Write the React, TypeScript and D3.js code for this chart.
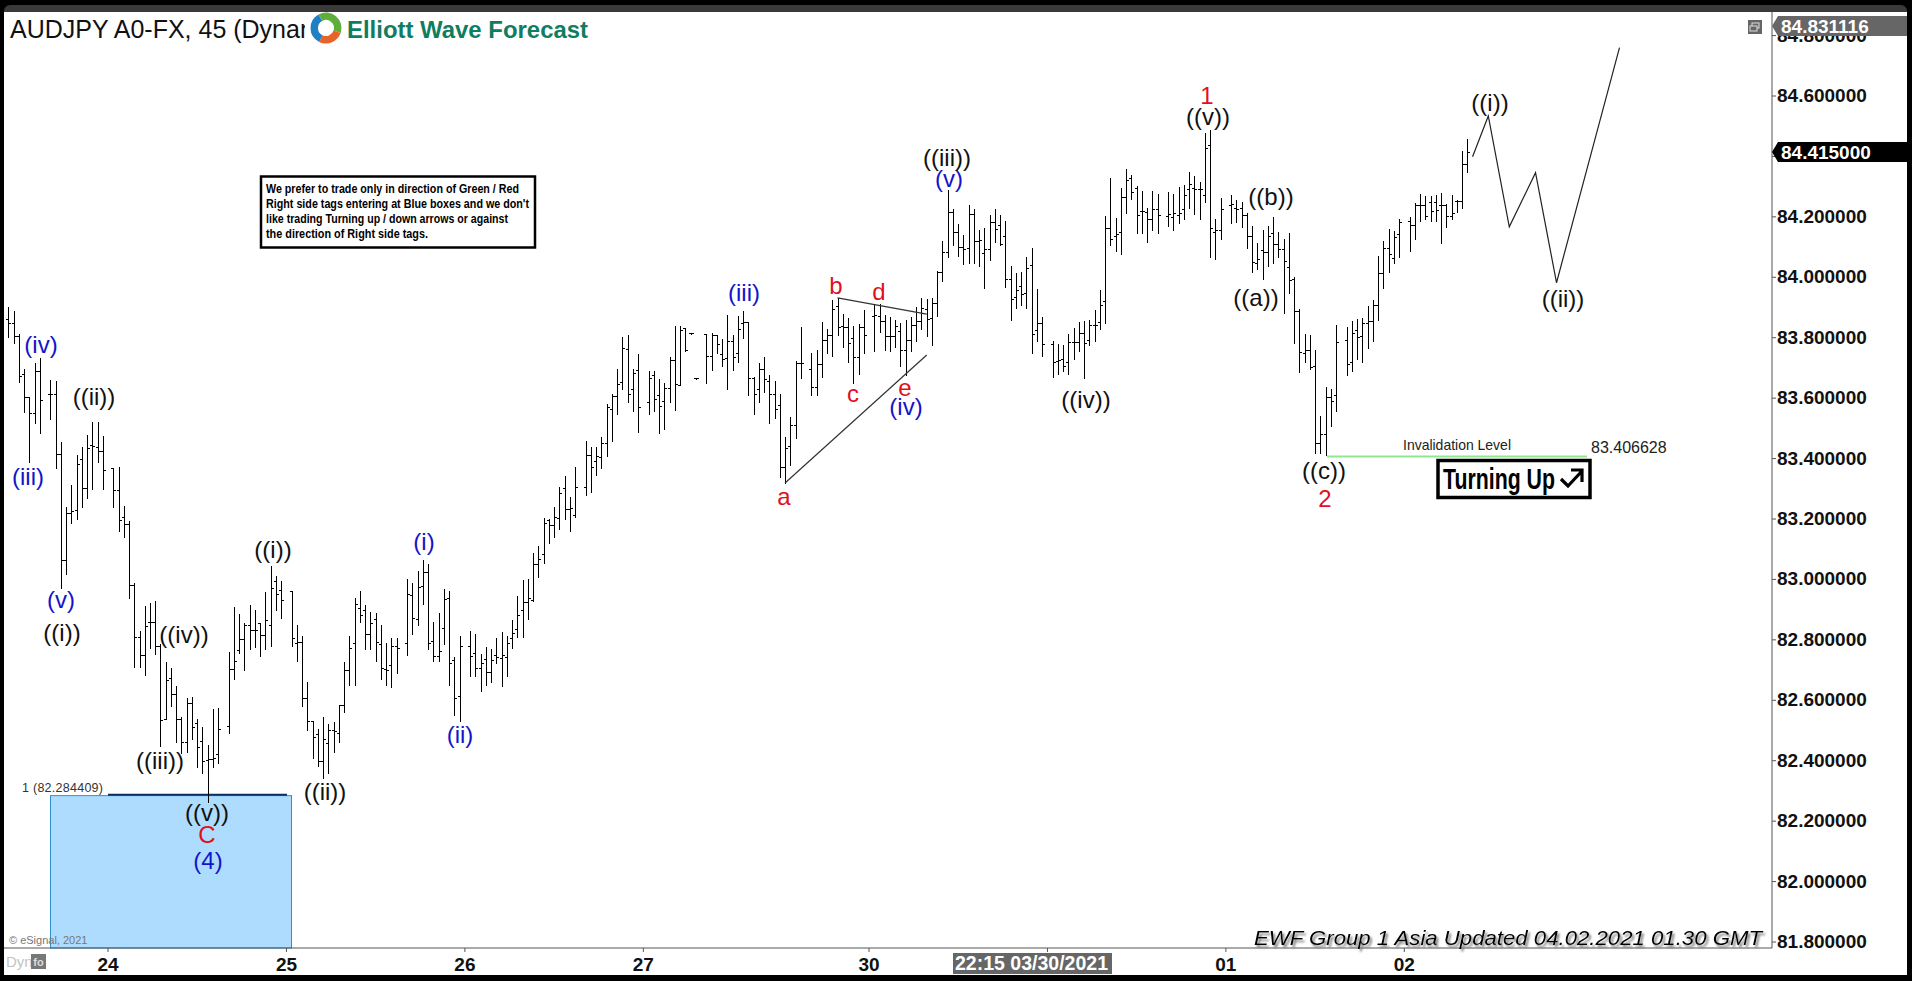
import * as d3 from "d3";

// 45 minute bars, index = bar slot on the time axis, null = empty slot
const barHigh = [
  83.903,83.889,83.811,83.695,83.605,83.715,83.732,null,83.660,83.657,
  83.454,83.239,83.312,83.411,83.437,83.478,83.521,83.521,83.475,null,
  83.370,83.371,83.243,83.193,82.987,82.829,82.912,82.923,82.929,82.786,
  82.726,82.706,82.647,82.546,82.609,82.610,82.537,82.510,82.452,82.570,
  82.573,null,82.761,82.908,82.886,82.857,82.915,82.899,82.857,82.958,
  83.044,83.011,82.995,null,82.963,82.849,82.813,82.660,82.531,82.505,
  82.545,82.521,82.529,82.586,82.726,82.813,82.937,82.961,82.914,82.892,
  82.888,82.849,82.790,82.807,82.807,null,83.000,82.987,83.028,83.064,
  83.051,82.858,82.888,82.967,82.961,82.742,82.813,null,82.829,82.819,
  82.753,82.775,82.769,82.805,82.825,82.812,82.865,82.945,82.998,83.001,
  83.087,83.110,83.202,83.199,83.240,83.305,83.342,83.274,83.372,null,
  83.458,83.439,83.439,83.471,83.579,83.614,83.696,83.801,83.809,83.695,
  83.746,null,83.690,83.690,83.662,83.649,83.735,83.839,83.839,83.832,
  83.814,83.665,null,83.812,83.814,83.806,83.795,83.875,83.809,83.872,
  83.888,83.853,83.671,83.715,83.735,83.676,83.657,83.613,83.472,83.536,
  83.722,83.834,null,83.751,83.759,83.852,83.828,83.925,83.933,83.878,
  83.864,83.839,83.845,83.892,null,83.911,83.911,83.874,83.870,83.858,
  83.850,83.858,83.867,83.903,83.933,83.927,83.931,84.021,84.120,84.289,
  84.225,84.178,84.140,84.239,84.225,84.156,84.164,84.206,84.226,84.206,
  84.186,84.037,84.015,84.017,84.067,84.097,83.961,83.867,null,83.789,
  83.779,83.776,83.811,83.831,83.852,83.855,83.859,83.891,83.958,84.203,
  84.327,84.195,84.294,84.357,84.337,84.302,84.287,84.228,84.286,84.276,
  null,84.281,84.276,84.299,84.305,84.348,84.335,84.315,84.476,84.488,
  84.192,84.261,null,84.272,84.256,84.248,84.212,84.171,84.112,84.156,
  84.170,84.201,84.149,84.127,84.145,84.000,83.894,83.812,83.809,83.759,
  83.541,83.638,83.629,83.842,null,83.834,83.854,83.861,83.865,83.905,
  83.925,84.070,84.120,84.160,84.153,84.193,null,84.201,84.245,84.275,
  84.269,84.269,84.272,84.279,84.243,84.271,84.256,84.418,84.458,
];
const barLow = [
  83.801,83.782,83.655,83.555,83.390,83.519,83.486,null,83.530,83.370,
  82.971,83.018,83.188,83.200,83.241,83.271,83.299,83.387,83.300,null,
  83.241,83.160,83.142,82.940,82.711,82.711,82.684,82.772,82.752,82.449,
  82.537,82.581,82.463,82.424,82.430,82.472,82.380,82.360,82.264,82.380,
  82.391,null,82.491,82.669,82.758,82.700,82.769,82.777,82.746,82.769,
  82.779,82.899,82.871,null,82.779,82.731,82.582,82.501,82.410,82.382,
  82.344,82.358,82.430,82.462,82.562,82.650,82.650,82.860,82.769,82.769,
  82.730,82.671,82.650,82.645,82.689,null,82.750,82.819,82.849,82.918,
  82.769,82.731,82.731,82.786,82.650,82.551,82.531,null,82.681,82.681,
  82.630,82.650,82.661,82.722,82.648,82.681,82.772,82.808,82.810,82.870,
  82.929,83.009,83.053,83.121,83.141,83.167,83.201,83.161,83.207,null,
  83.279,83.290,83.345,83.370,83.409,83.459,83.547,83.630,83.588,83.558,
  83.489,null,83.547,83.558,83.486,83.499,83.588,83.561,83.642,83.757,
  83.813,83.664,null,83.651,83.693,83.750,83.707,83.629,83.693,83.719,
  83.800,83.612,83.549,83.588,83.621,83.519,83.533,83.340,83.318,83.378,
  83.467,83.668,null,83.612,83.610,83.671,83.748,83.740,83.809,83.770,
  83.721,83.651,83.680,83.748,null,83.756,83.820,83.759,83.757,83.770,
  83.706,83.675,83.756,83.789,83.829,83.807,83.776,83.872,83.989,84.068,
  84.107,84.071,84.044,84.048,84.048,84.037,83.966,84.057,84.118,84.107,
  83.969,83.859,83.898,83.908,83.899,83.750,83.790,83.740,null,83.671,
  83.680,83.691,83.680,83.729,83.757,83.668,83.776,83.790,83.828,83.850,
  84.108,84.088,84.078,84.214,84.259,84.148,84.148,84.118,84.156,84.148,
  null,84.170,84.156,84.181,84.192,84.229,84.209,84.192,84.250,84.068,
  84.059,84.127,null,84.181,84.184,84.168,84.098,84.019,84.027,83.995,
  84.038,84.048,84.066,83.881,83.949,83.781,83.688,83.721,83.695,83.417,
  83.417,83.412,83.509,83.558,null,83.676,83.691,83.729,83.721,83.767,
  83.790,83.859,83.966,84.019,84.048,84.068,null,84.088,84.128,84.187,
  84.192,84.187,84.187,84.115,84.168,84.194,84.217,84.230,84.350,
];
const barOpen = [
  83.859,83.846,83.804,83.677,83.603,83.548,83.689,null,83.611,83.611,
  83.412,83.061,83.219,83.227,83.398,83.302,83.444,83.437,83.423,null,
  83.368,83.293,83.206,83.182,82.979,82.808,82.747,82.857,82.857,82.777,
  82.537,82.673,82.620,82.535,82.460,82.590,82.524,82.463,82.402,82.405,
  82.422,null,82.513,82.702,82.764,82.802,82.846,82.832,82.854,82.813,
  82.849,82.992,82.965,null,82.959,82.788,82.792,82.606,82.529,82.488,
  82.399,82.457,82.501,82.490,82.584,82.700,82.788,82.904,82.896,82.818,
  82.868,82.783,82.702,82.716,82.777,null,82.788,82.948,82.868,82.976,
  83.022,82.794,82.744,82.838,82.937,82.733,82.612,null,82.777,82.755,
  82.705,82.735,82.692,82.747,82.739,82.742,82.805,82.835,82.896,82.924,
  82.929,83.050,83.083,83.195,83.179,83.202,83.301,83.232,83.211,null,
  83.305,83.411,83.391,83.405,83.450,83.564,83.606,83.652,83.761,83.629,
  83.693,null,83.586,83.676,83.609,83.590,83.632,83.726,83.642,83.832,
  83.814,83.665,null,83.812,83.739,83.806,83.743,83.732,83.787,83.748,
  83.847,83.852,83.665,83.629,83.695,83.654,83.611,83.577,83.371,83.439,
  83.508,83.715,null,83.695,83.635,83.712,83.792,83.808,83.903,83.836,
  83.834,83.798,83.735,83.834,null,83.870,83.870,83.855,83.803,83.803,
  83.819,83.759,83.790,83.842,83.853,83.892,83.864,83.914,84.015,84.082,
  84.214,84.149,84.099,84.096,84.209,84.118,84.079,84.092,84.182,84.172,
  84.134,83.993,83.934,83.971,83.947,84.040,83.824,83.848,null,83.778,
  83.721,83.728,83.718,83.785,83.785,83.814,83.792,83.840,83.850,83.919,
  84.162,84.134,84.148,84.263,84.327,84.294,84.217,84.214,84.192,84.223,
  null,84.201,84.198,84.204,84.225,84.289,84.294,84.289,84.272,84.435,
  84.149,84.156,null,84.239,84.228,84.228,84.203,84.134,84.046,84.088,
  84.081,84.145,84.109,84.092,84.032,83.993,83.886,83.748,83.759,83.704,
  83.450,83.481,83.603,83.608,null,83.792,83.718,83.825,83.803,83.848,
  83.853,83.908,84.013,84.096,84.063,84.140,null,84.186,84.170,84.236,
  84.239,84.249,84.249,84.239,84.236,84.201,84.250,84.252,84.372,
];
const barClose = [
  83.846,83.804,83.671,83.603,83.550,83.689,83.591,null,83.611,83.412,
  83.061,83.219,83.224,83.382,83.302,83.432,83.440,83.423,83.362,null,
  83.293,83.195,83.182,82.979,82.808,82.747,82.844,82.857,82.777,82.533,
  82.667,82.620,82.535,82.460,82.590,82.509,82.444,82.397,82.405,82.408,
  82.504,null,82.702,82.728,82.802,82.846,82.832,82.832,82.813,82.865,
  82.970,82.950,82.930,null,82.803,82.792,82.606,82.529,82.477,82.399,
  82.470,82.501,82.496,82.584,82.700,82.772,82.918,82.880,82.818,82.854,
  82.790,82.705,82.698,82.777,82.772,null,82.950,82.871,82.974,83.022,
  82.788,82.746,82.763,82.932,82.722,82.606,82.779,null,82.746,82.705,
  82.722,82.691,82.731,82.742,82.747,82.788,82.821,82.880,82.924,82.937,
  83.048,83.066,83.185,83.177,83.205,83.283,83.232,83.235,83.305,null,
  83.411,83.371,83.408,83.450,83.568,83.606,83.646,83.765,83.612,83.682,
  83.569,null,83.665,83.596,83.572,83.632,83.723,83.646,83.825,83.757,
  83.814,83.665,null,83.739,83.806,83.779,83.728,83.787,83.735,83.828,
  83.850,83.665,83.612,83.695,83.662,83.611,83.561,83.371,83.434,83.508,
  83.715,83.715,null,83.635,83.712,83.792,83.808,83.892,83.834,83.834,
  83.781,83.735,83.834,83.808,null,83.872,83.855,83.803,83.803,83.836,
  83.759,83.790,83.842,83.853,83.897,83.861,83.914,84.015,84.082,84.214,
  84.149,84.099,84.092,84.209,84.118,84.123,84.092,84.182,84.159,84.109,
  83.993,83.927,83.956,83.944,84.030,83.811,83.848,83.778,null,83.718,
  83.724,83.704,83.785,83.785,83.814,83.781,83.840,83.840,83.908,84.162,
  84.126,84.140,84.263,84.320,84.281,84.204,84.217,84.192,84.225,84.203,
  null,84.208,84.212,84.212,84.272,84.308,84.289,84.289,84.427,84.162,
  84.156,84.225,null,84.241,84.226,84.203,84.134,84.048,84.059,84.081,
  84.134,84.109,84.092,84.052,83.988,83.886,83.752,83.759,83.702,83.450,
  83.481,83.603,83.590,83.785,null,83.712,83.814,83.801,83.848,83.853,
  83.908,84.013,84.096,84.076,84.132,84.182,null,84.170,84.236,84.239,
  84.201,84.217,84.220,84.236,84.201,84.212,84.252,84.372,84.414,
];

const priceTicks = [84.8, 84.6, 84.4, 84.2, 84.0, 83.8, 83.6, 83.4, 83.2, 83.0, 82.8, 82.6, 82.4, 82.2, 82.0, 81.8];
const dayBars = [19, 53, 87, 121, 164, 198, 232, 266];
const dayLabels = ["24", "25", "26", "27", "30", "", "01", "02"];

// projected path and triangle lines, [bar slot, price]
const projection: [number, number][] = [[279, 84.399], [282, 84.534], [286, 84.167], [291, 84.346], [295, 83.982], [307, 84.76]];
const triangleLower: [number, number][] = [[148, 83.319], [175, 83.743]];
const triangleUpper: [number, number][] = [[158, 83.932], [175, 83.878]];

const boxLevel = 82.284409;
const invalidation = 83.406628;
const lastPrice = 84.415;
const highPrice = 84.831116;

const BLACK = "#111";
const BLUE = "#1414c8";
const RED = "#e01020";

const waveLabels: [string, string, number, number][] = [
  ["(iv)", BLUE, 41, 344], ["(iii)", BLUE, 28, 476], ["((ii))", BLACK, 94, 396],
  ["(v)", BLUE, 61, 599], ["((i))", BLACK, 62, 632], ["((iv))", BLACK, 184, 634],
  ["((iii))", BLACK, 160, 760], ["((i))", BLACK, 273, 549], ["(i)", BLUE, 424, 541],
  ["((ii))", BLACK, 325, 791], ["(ii)", BLUE, 460, 734], ["((v))", BLACK, 207, 812],
  ["C", RED, 207, 834], ["(4)", BLUE, 208, 860], ["(iii)", BLUE, 744, 292],
  ["b", RED, 836, 285], ["d", RED, 879, 291], ["c", RED, 853, 393], ["e", RED, 905, 387],
  ["(iv)", BLUE, 906, 406], ["a", RED, 784, 496], ["(v)", BLUE, 949, 178],
  ["((iii))", BLACK, 947, 157], ["((iv))", BLACK, 1086, 399], ["1", RED, 1207, 95],
  ["((v))", BLACK, 1208, 116], ["((b))", BLACK, 1271, 196], ["((a))", BLACK, 1256, 297],
  ["((c))", BLACK, 1324, 470], ["2", RED, 1325, 498], ["((i))", BLACK, 1490, 102],
  ["((ii))", BLACK, 1563, 298],
];

const noteLines: [string, number][] = [
  ["We prefer to trade only in direction of Green / Red", 253],
  ["Right side tags entering at Blue boxes and we don't", 263],
  ["like trading Turning up / down arrows or against", 242],
  ["the direction of Right side tags.", 162],
];

const logoArcs: [number, number, string][] = [
  [-0.5, 1.9, "#5fae3c"],
  [1.9, 3.6, "#e8632a"],
  [3.6, 5.78, "#1f7fc4"],
];

const FONT = "'Liberation Sans', Arial, sans-serif";

export default function App() {
  const width = 1912;
  const height = 981;
  const axisX = 1772;
  const axisY = 948;

  const x = d3.scaleLinear().domain([0, 278]).range([8.3, 1467.3]);
  const y = d3.scaleLinear().domain([84.6, 81.8]).range([96, 942]);
  const line = d3.line<[number, number]>().x((d) => x(d[0])).y((d) => y(d[1]));
  const arc = d3.arc();
  const bars = d3.range(barHigh.length).filter((i) => barHigh[i] !== null);

  return (
    <svg
      width={width}
      height={height}
      viewBox={`0 0 ${width} ${height}`}
      style={{ position: "fixed", left: 0, top: 0, background: "#000" }}
    >
      <defs>
        <filter id="shadow" x="-5%" y="-30%" width="110%" height="170%">
          <feDropShadow dx="2" dy="2.5" stdDeviation="0.8" floodColor="#777" floodOpacity="1" />
        </filter>
        <clipPath id="title-clip">
          <rect x="4" y="12" width="301" height="40" />
        </clipPath>
      </defs>

      <rect x="4" y="5" width="1903" height="20" rx="6" fill="#3a3a3a" />
      <rect x="4" y="12" width="1903" height="963" fill="#fff" />

      {/* blue box */}
      <rect
        x={50.5}
        y={y(boxLevel)}
        width={241}
        height={axisY - y(boxLevel)}
        fill="#aedcff"
        stroke="#2b8fd0"
        strokeWidth="1"
      />
      <line x1={108} x2={287} y1={y(boxLevel) - 1} y2={y(boxLevel) - 1} stroke="#0a2f66" strokeWidth="2" />
      <text x={22} y={792} fontFamily={FONT} fontSize="12.5" fill="#333" textLength={81}>1 (82.284409)</text>
      <text x={9} y={944} fontFamily={FONT} fontSize="11" fill="#777">© eSignal, 2021</text>

      {/* OHLC bars */}
      <g stroke="#000" strokeWidth="1" shapeRendering="crispEdges">
        {bars.map((i) => {
          const cx = Math.round(x(i)) + 0.5;
          return (
            <g key={i}>
              <line x1={cx} x2={cx} y1={y(barHigh[i] as number)} y2={y(barLow[i] as number) + 1} />
              <line x1={cx - 2.5} x2={cx} y1={y(barOpen[i] as number)} y2={y(barOpen[i] as number)} />
              <line x1={cx} x2={cx + 2.5} y1={y(barClose[i] as number)} y2={y(barClose[i] as number)} />
            </g>
          );
        })}
      </g>

      {/* wave lines */}
      <path d={line(projection) ?? ""} fill="none" stroke="#222" strokeWidth="1.2" />
      <path d={line(triangleLower) ?? ""} fill="none" stroke="#333" strokeWidth="1.2" />
      <path d={line(triangleUpper) ?? ""} fill="none" stroke="#333" strokeWidth="1.2" />

      {/* invalidation */}
      <line x1={1327} x2={1587} y1={y(invalidation)} y2={y(invalidation)} stroke="#8fe88f" strokeWidth="2" />
      <text x={1457} y={450} textAnchor="middle" fontFamily={FONT} fontSize="14.5" fill="#222" textLength={108} lengthAdjust="spacingAndGlyphs">Invalidation Level</text>
      <text x={1591} y={453} fontFamily={FONT} fontSize="16" fill="#222">{invalidation.toFixed(6)}</text>
      <rect x={1438} y={460.5} width={152} height={37} fill="#fff" stroke="#000" strokeWidth="3.5" />
      <text x={1443} y={489} fontFamily={FONT} fontWeight="bold" fontSize="30" fill="#000" textLength={112} lengthAdjust="spacingAndGlyphs">Turning Up</text>
      <path d="M1561,479 L1568,486 L1582,471 M1571,470 H1582 V482" fill="none" stroke="#000" strokeWidth="3.2" />

      {/* wave labels */}
      {waveLabels.map(([text, color, lx, ly], i) => (
        <text
          key={i}
          x={lx}
          y={ly}
          textAnchor="middle"
          dominantBaseline="central"
          fontFamily={FONT}
          fontSize="24"
          fill={color}
        >
          {text}
        </text>
      ))}

      {/* note */}
      <rect x={261} y={176.5} width={274} height={71} fill="#fff" stroke="#000" strokeWidth="2.5" />
      {noteLines.map(([text, w], i) => (
        <text
          key={i}
          x={266}
          y={192.7 + i * 15}
          fontFamily={FONT}
          fontWeight="bold"
          fontSize="13.5"
          fill="#000"
          textLength={w}
          lengthAdjust="spacingAndGlyphs"
        >
          {text}
        </text>
      ))}

      {/* title and logo */}
      <text x={10} y={38} clipPath="url(#title-clip)" fontFamily={FONT} fontSize="25" fill="#111">AUDJPY A0-FX, 45 (Dynan</text>
      <g transform="translate(326,28)">
        {logoArcs.map(([a0, a1, color]) => (
          <path
            key={color}
            d={arc({ innerRadius: 8, outerRadius: 15.5, startAngle: a0, endAngle: a1 }) ?? ""}
            fill={color}
          />
        ))}
      </g>
      <text x={347} y={38} fontFamily={FONT} fontWeight="bold" fontSize="24" fill="#0f7d5f" textLength={241} lengthAdjust="spacingAndGlyphs">Elliott Wave Forecast</text>

      {/* price axis */}
      <line x1={axisX} x2={axisX} y1={12} y2={axisY} stroke="#555" strokeWidth="1" />
      {priceTicks.map((t) => (
        <g key={t}>
          <line x1={axisX} x2={axisX + 4} y1={y(t)} y2={y(t)} stroke="#555" />
          <text x={axisX + 5} y={y(t) + 6} fontFamily={FONT} fontWeight="bold" fontSize="19" fill="#111">{t.toFixed(6)}</text>
        </g>
      ))}
      <path d="M1772,26 L1778,16 H1907 V36 H1778 Z" fill="#666" />
      <text x={1781} y={33} fontFamily={FONT} fontWeight="bold" fontSize="19" fill="#fff">{highPrice.toFixed(6)}</text>
      <path d="M1772,152 L1778,142 H1907 V162 H1778 Z" fill="#000" />
      <text x={1781} y={159} fontFamily={FONT} fontWeight="bold" fontSize="19" fill="#fff">{lastPrice.toFixed(6)}</text>
      <rect x={1748} y={20} width={14} height={14} fill="#666" />
      <rect x={1752} y={23} width={7} height={5} fill="none" stroke="#ddd" strokeWidth="1" />
      <rect x={1750} y={26} width={7} height={5} fill="#666" stroke="#ddd" strokeWidth="1" />

      {/* time axis */}
      <line x1={4} x2={axisX} y1={axisY} y2={axisY} stroke="#555" strokeWidth="1" />
      {dayBars.map((b, i) => (
        <g key={b}>
          <line x1={x(b)} x2={x(b)} y1={axisY} y2={axisY + 4} stroke="#555" />
          {dayLabels[i] && (
            <text x={x(b)} y={971} textAnchor="middle" fontFamily={FONT} fontWeight="bold" fontSize="19" fill="#111">{dayLabels[i]}</text>
          )}
        </g>
      ))}
      <rect x={953} y={953} width={159} height={21} fill="#666" />
      <text x={955} y={970} fontFamily={FONT} fontWeight="bold" fontSize="20" fill="#fff" textLength={153} lengthAdjust="spacingAndGlyphs">22:15 03/30/2021</text>
      <text x={6} y={967} fontFamily={FONT} fontSize="15" fill="#c4c4c4">Dyn</text>
      <rect x={31} y={954} width={15} height={15} fill="#777" />
      <text x={38.5} y={966} textAnchor="middle" fontFamily={FONT} fontWeight="bold" fontSize="11" fill="#ddd">fo</text>

      {/* footer */}
      <text
        x={1254}
        y={945}
        fontFamily={FONT}
        fontStyle="italic"
        fontSize="21"
        fill="#000"
        textLength={508}
        lengthAdjust="spacingAndGlyphs"
        filter="url(#shadow)"
      >
        EWF Group 1 Asia Updated 04.02.2021 01.30 GMT
      </text>
    </svg>
  );
}
